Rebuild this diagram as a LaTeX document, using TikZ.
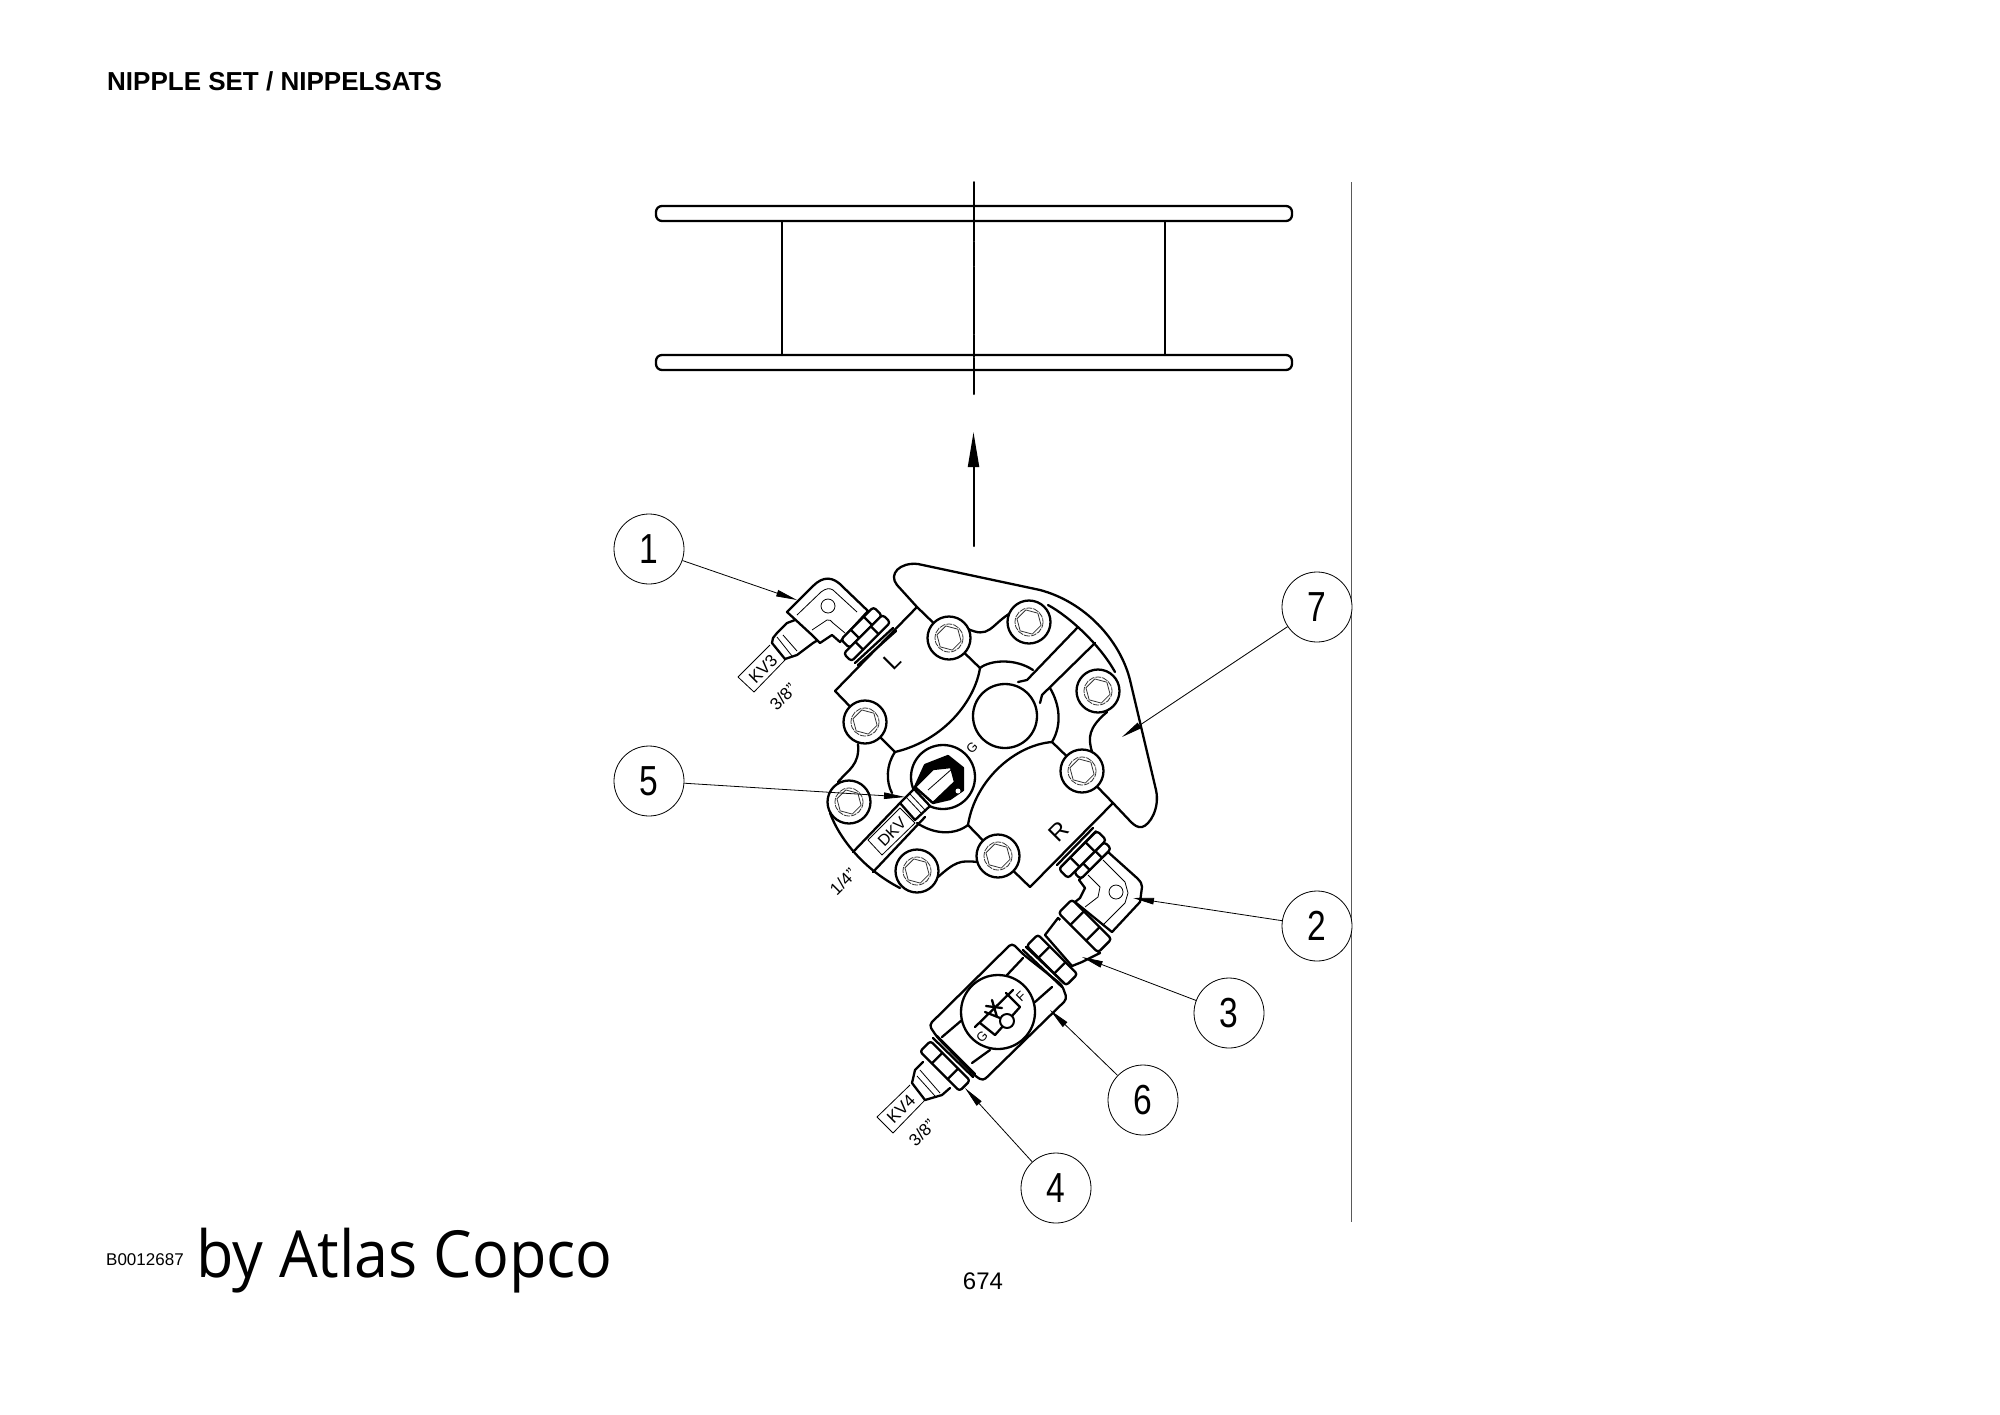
\documentclass[tikz,border=0pt]{standalone}
\usepackage{fontspec}
\setmainfont{Liberation Sans}
\newfontfamily\brandfont{Open Sans}
\usetikzlibrary{arrows.meta}
\tikzset{
  heavy/.style={line width=2.3pt,line join=round,line cap=round},
  medium/.style={line width=2pt,line join=round,line cap=round},
  fine/.style={line width=0.8pt,line join=round},
  callout/.style={circle,draw,line width=0.8pt,minimum size=70pt,inner sep=0pt,fill=white,font=\fontsize{42}{42}\selectfont},
  leader/.style={line width=0.8pt,-{Triangle[length=21pt,width=6.5pt]}},
  tag/.style={inner sep=0pt,rotate=45,font=\fontsize{17}{17}\selectfont},
}
\newcommand{\boltat}[2]{%
  \draw[heavy,fill=white] (#1,#2) circle[radius=21.5];
  \draw[fine,black!80,dash pattern=on 6pt off 1pt] (#1,#2) circle[radius=14];
  \draw[fine,black!80] plot[samples at={15,75,...,315}] ({#1+12.5*cos(\x)},{#2+12.5*sin(\x)}) -- cycle;
}
\newcommand{\nutat}[5]{%
  \begin{scope}[shift={(#1,#2)},rotate=#5]
    \draw[heavy,fill=white,rounded corners=3pt] ({-#3/2},{-#4/2}) rectangle ({#3/2},{#4/2});
    \draw[heavy] ({-#3/5},{-#4/2}) -- ({-#3/5},{#4/2}) ({#3/5},{-#4/2}) -- ({#3/5},{#4/2});
  \end{scope}
}
\newcommand{\slimdigit}[1]{\scalebox{0.8}[1]{#1}}
\begin{document}
\begin{tikzpicture}[x=1pt,y=-1pt]
\useasboundingbox (0,0) rectangle (2000,1414);
\fill[white] (0,0) rectangle (2000,1414);

% frame line
\draw[line width=1pt,black!65] (1351,182) -- (1351,1222);

% top view
\draw[heavy,rounded corners=6pt] (656,206) rectangle (1292,221);
\draw[heavy,rounded corners=6pt] (656,355) rectangle (1292,370);
\draw[medium] (782,221) -- (782,355);
\draw[medium] (1165,221) -- (1165,355);
\draw[medium,dash pattern=on 59pt off 1pt on 24pt off 1pt on 67pt off 1pt on 22pt off 1pt on 36pt off 0pt] (973.5,182) -- (973.5,394);
\coordinate (viewtail) at (973.5,546);
\coordinate (viewtip) at (973.5,432);
\draw[medium,-{Triangle[length=35pt,width=11pt]}] (viewtail) -- (viewtip);

% flange outer outline and lug
\draw[heavy] (917,607) -- (897,585) .. controls (888,574) and (900,562) .. (918,564) -- (1040,590)
  .. controls (1085,602) and (1120,640) .. (1130,680) -- (1156,790)
  .. controls (1160,808) and (1150,825) .. (1142,827) .. controls (1138,828) and (1134,825) .. (1131,822)
  -- (1113,803) -- (1082,771);
\draw[heavy] (949,638) -- (917,607) -- (835,691) -- (865,722);
\draw[heavy] (858,744) .. controls (860,765) and (848,770) .. (838,782);
\draw[heavy] (830,813) .. controls (840,840) and (865,870) .. (900,888);
\draw[heavy] (938,877) .. controls (955,862) and (960,860) .. (977,862);
\draw[heavy] (998,856) -- (1030,887) -- (1113,803);
\draw[heavy] (966,628) .. controls (990,640) and (990,625) .. (1012,612);
\draw[heavy] (1048,605) .. controls (1070,617) and (1100,645) .. (1115,672);
\draw[heavy] (1107,712) .. controls (1088,728) and (1088,738) .. (1092,752);
% ports and centre ring
\draw[heavy] (949,638) -- (980,668) .. controls (975,700) and (945,740) .. (895,752) -- (865,722);
\draw[heavy] (1082,771) -- (1052,742) .. controls (1015,745) and (975,780) .. (968,825) -- (998,856);
\draw[heavy] (980,668) .. controls (990,660) and (1015,658) .. (1033,670);
\draw[heavy] (1050,688) .. controls (1060,705) and (1062,725) .. (1052,742);
\draw[heavy] (895,752) .. controls (886,765) and (886,782) .. (892,793);
\draw[heavy] (968,825) .. controls (955,835) and (935,835) .. (917,823);
\draw[heavy] (1078,627) -- (1027,680) -- (1018,682);
\draw[heavy] (1095,643) -- (1042,695) -- (1040,703);
\draw[heavy] (1005,716) circle[radius=32];
% G port with hex plug
\draw[heavy] (943,777) circle[radius=32];
\draw[heavy,fill=black] (925,765) -- (948,756) -- (963,768) -- (963,790) -- (950,799) -- (933,803) -- (915,787) -- cycle;
\fill[white] (958,791) circle[radius=2.5];
\draw[heavy,fill=white] (915,787) -- (933,769) -- (951,767) -- (955,782) -- (933,803) -- cycle;
\draw[fine] (928,790) -- (953,768);
% DKV channel
\draw[heavy] (853,852) -- (900,803);
\draw[heavy] (873,872) -- (925,817);
\draw[heavy,fill=white] (900,803) -- (914,789) -- (930,806) -- (915,820) -- cycle;
\draw[fine] (906,797) -- (921,813) (910,794) -- (925,810);
\draw[fine,fill=white] (868,840) -- (882,855) -- (915,823) -- (900,808) -- cycle;
\node[tag,font=\fontsize{16}{16}\selectfont] (dkv) at (892,832) {DKV};
\node[tag] (quarter) at (843,882) {1/4"};
\node[tag,font=\fontsize{13}{13}\selectfont] (gmark) at (972,748) {G};
\node[tag,font=\fontsize{24}{24}\selectfont] (lmark) at (892,661) {L};
\node[tag,font=\fontsize{24}{24}\selectfont] (rmark) at (1059,832) {R};

% bolts
\boltat{949}{638}
\boltat{1029}{622}
\boltat{1098}{691}
\boltat{1082}{771}
\boltat{998}{856}
\boltat{917}{871}
\boltat{849}{802}
\boltat{865}{722}

% left fitting
\draw[heavy,fill=white] (795,620) -- (787,623) -- (777,633) -- (773,638) -- (772,643) -- (785,659) -- (797,655) -- (813,643) -- (818,640);
\draw[fine] (777,637) -- (792,656) (783,635) -- (797,651);
\draw[heavy,fill=white] (787,612) -- (813,586) .. controls (823,576) and (833,576) .. (843,587) -- (868,611) -- (846,635) -- (840,642) -- (832,635) -- (820,643) -- (812,635) -- cycle;
\draw[fine] (797,615) -- (821,592) .. controls (826,588) and (830,588) .. (833,590) -- (857,612);
\draw[fine] (812,630) -- (827,620) .. controls (830,619) and (831,621) .. (833,623) -- (845,633);
\draw[fine] (828,606) circle[radius=7];
\nutat{861.5}{627.5}{46}{12}{45}
\nutat{867}{638}{55}{11}{45}
\draw[heavy] (855,663) -- (893,628);
\draw[heavy] (858,665) -- (896,631);
\draw[fine] (738,677) -- (770,645) (785,660) -- (754,692) -- (738,677);
\node[tag] (kvthree) at (763,669) {KV3};
\node[tag] (threeeighthsA) at (783,697) {3/8"};

% right fitting
\draw[heavy,fill=white] (1079,880) -- (1108,852) -- (1137,878) .. controls (1141,882) and (1142,884) .. (1142,887) -- (1140,902) -- (1112,932) -- (1075,902) -- (1080,898) -- (1085,888) -- cycle;
\draw[fine] (1088,875) -- (1100,887) -- (1098,897) -- (1085,907);
\draw[fine] (1103,860) -- (1125,882) -- (1128,893) -- (1125,903) -- (1103,925);
\draw[fine] (1116,892) circle[radius=7];
\nutat{1092.5}{860.5}{43}{9.5}{45}
\nutat{1082.5}{854.5}{54}{13}{45}
\draw[heavy] (1057,865) -- (1093,828);
\draw[medium] (1060,868) -- (1096,831);
% cone between the nuts
\draw[heavy,fill=white] (1058,918) -- (1045,935) -- (1072,966) -- (1082,962) -- (1100,953) -- cycle;
\draw[draw=none,fill=white] (1062,918) -- (1050,933) -- (1074,960) -- (1095,948) -- cycle;
\nutat{1085}{926}{56}{19}{-45}
% valve body
\draw[heavy,rounded corners=4pt,fill=white] (937,1037) -- (929,1025) -- (1012,943) -- (1024,955) -- (1062,985) -- (1067,999) -- (983,1081) -- (974,1075) -- cycle;
\draw[heavy] (1007,975) -- (1023,958) (1035,1002) -- (1052,987) (942,1037) -- (962,1020) (972,1063) -- (990,1050);
\nutat{1052}{960}{56}{16}{-45}
\draw[heavy] (1023,950) -- (1062,987);
\draw[heavy] (1026,947) -- (1064,983);
\draw[heavy,fill=white] (998,1012) circle[radius=37];
% valve symbol
\draw[heavy] (975,1027) -- (1013,990);
\draw[heavy] (980,1023) -- (995,1035) -- (1020,1007) -- (1006,993);
\draw[medium,fill=white] (1007,1021) circle[radius=7];
\draw[heavy] (985,1012) -- (1000,1018) (992,1000) -- (997,1017) (986,1006) -- (1002,1008);
\node[tag,font=\fontsize{13}{13}\selectfont] (gvalve) at (982,1037) {G};
\node[tag,font=\fontsize{13}{13}\selectfont] (fvalve) at (1021,997) {F};
% lower stem and tag
\draw[heavy,fill=white] (923,1062) -- (915,1070) -- (912,1083) -- (925,1100) -- (942,1095) -- (950,1088);
\draw[fine] (920,1070) -- (940,1093) (917,1076) -- (935,1096);
\nutat{945}{1066}{56}{15}{-45}
\draw[heavy] (933,1038) -- (973,1077);
\draw[heavy] (937,1036) -- (975,1074);
\draw[fine] (910,1085) -- (877,1117) -- (893,1133) -- (925,1100);
\node[tag] (kvfour) at (901,1109) {KV4};
\node[tag] (threeeighthsB) at (922,1133) {3/8"};

% callouts
\node[callout] (c1) at (649,549) {\slimdigit{1}};
\node[callout] (c5) at (649,781) {\slimdigit{5}};
\node[callout] (c7) at (1317,607) {\slimdigit{7}};
\node[callout] (c2) at (1317,926) {\slimdigit{2}};
\node[callout] (c3) at (1229,1013) {\slimdigit{3}};
\node[callout] (c6) at (1143,1100) {\slimdigit{6}};
\node[callout] (c4) at (1056,1188) {\slimdigit{4}};
\coordinate (t1) at (797,600);
\coordinate (t5) at (905,797);
\coordinate (t7) at (1122,737);
\coordinate (t2) at (1133,898);
\coordinate (t3) at (1082,957);
\coordinate (t6) at (1050,1010);
\coordinate (t4) at (965,1088);
\draw[leader] (c1) -- (t1);
\draw[leader] (c5) -- (t5);
\draw[leader] (c7) -- (t7);
\draw[leader] (c2) -- (t2);
\draw[leader] (c3) -- (t3);
\draw[leader] (c6) -- (t6);
\draw[leader] (c4) -- (t4);

% page texts
\node[anchor=base west,inner sep=0pt,font=\bfseries\fontsize{26}{26}\selectfont] (title) at (107,90) {NIPPLE SET / NIPPELSATS};
\node[anchor=base west,inner sep=0pt,font=\fontsize{17}{17}\selectfont] (code) at (106,1265) {B0012687};
\node[anchor=base west,inner sep=0pt,xscale=0.94,font=\brandfont\fontsize{65}{65}\selectfont] (brand) at (196,1277) {by Atlas Copco};
\node[anchor=base,inner sep=0pt,font=\fontsize{24}{24}\selectfont] (page) at (983,1289) {674};
\end{tikzpicture}
\end{document}
